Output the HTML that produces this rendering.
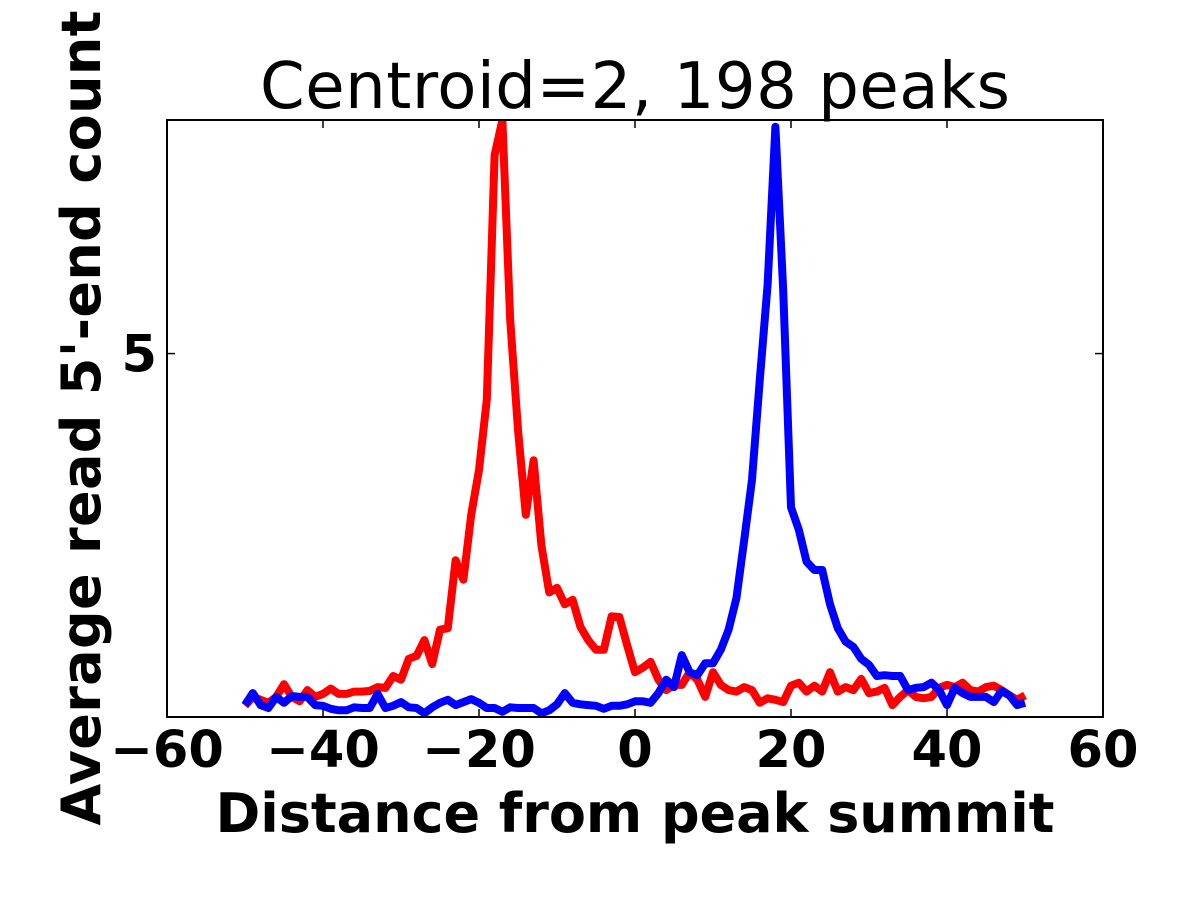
<!DOCTYPE html>
<html><head><meta charset="utf-8"><style>
html,body{margin:0;padding:0;background:#fff;}
svg{display:block;font-family:"DejaVu Sans","Liberation Sans",sans-serif;}
</style></head><body>
<svg id="chart" width="1200" height="900">
<rect width="1200" height="900" fill="#fff"/>
<text x="635" y="108" font-size="64" text-anchor="middle" textLength="750">Centroid=2, 198 peaks</text>
<text x="635" y="832" font-size="54" font-weight="bold" text-anchor="middle" textLength="839">Distance from peak summit</text>
<text transform="translate(100,418) rotate(-90)" font-size="54" font-weight="bold" text-anchor="middle" textLength="815">Average read 5'-end count</text>
<g id="plot"></g>
</svg>
<script>
const xs = [];
for (let i = -50; i <= 50; i++) xs.push(i);
const redValues = [0.28,0.40,0.36,0.32,0.40,0.57,0.40,0.34,0.49,0.40,0.44,0.51,0.44,0.44,0.47,0.47,0.48,0.53,0.52,0.68,0.63,0.91,0.95,1.16,0.84,1.30,1.32,2.23,1.97,2.84,3.44,4.38,7.66,8.13,5.45,3.98,2.84,3.57,2.43,1.80,1.86,1.64,1.70,1.34,1.16,1.03,1.03,1.48,1.47,1.09,0.73,0.79,0.87,0.63,0.49,0.56,0.56,0.73,0.63,0.40,0.73,0.56,0.49,0.47,0.53,0.49,0.32,0.38,0.36,0.33,0.55,0.59,0.47,0.55,0.47,0.73,0.47,0.53,0.49,0.64,0.45,0.47,0.52,0.29,0.40,0.49,0.40,0.38,0.40,0.52,0.56,0.53,0.59,0.49,0.47,0.53,0.55,0.49,0.42,0.36,0.42];
const blueValues = [0.29,0.45,0.29,0.25,0.40,0.32,0.41,0.40,0.40,0.29,0.28,0.24,0.22,0.22,0.26,0.25,0.25,0.44,0.25,0.28,0.33,0.26,0.25,0.18,0.26,0.32,0.36,0.29,0.33,0.37,0.32,0.25,0.25,0.20,0.26,0.25,0.25,0.25,0.18,0.22,0.30,0.45,0.32,0.30,0.29,0.28,0.24,0.28,0.28,0.30,0.34,0.34,0.32,0.45,0.63,0.53,0.96,0.73,0.69,0.85,0.85,1.03,1.30,1.72,2.50,3.31,4.65,5.92,8.04,5.85,2.94,2.64,2.21,2.10,2.10,1.64,1.32,1.14,1.07,0.91,0.83,0.68,0.69,0.68,0.68,0.49,0.52,0.53,0.59,0.49,0.29,0.52,0.45,0.40,0.40,0.40,0.33,0.48,0.42,0.29,0.32];
const xTicks = [-60,-40,-20,0,20,40,60];
const xTickLabels = ["\u221260","\u221240","\u221220","0","20","40","60"];
const yTicks = [5];
const yTickLabels = ["5"];
const xDomain = [-60,60], yDomain = [0.13,8.13];

const L=167,R=1103,T=120,B=717;
const sx = v => L + (v - xDomain[0]) / (xDomain[1]-xDomain[0]) * (R-L);
const sy = v => B - (v - yDomain[0]) / (yDomain[1]-yDomain[0]) * (B-T);
const NS="http://www.w3.org/2000/svg";
const g=document.getElementById('plot');
function mk(tag, attrs){const e=document.createElementNS(NS,tag);for(const k in attrs)e.setAttribute(k,attrs[k]);g.appendChild(e);return e;}

const clip=document.createElementNS(NS,'clipPath');clip.setAttribute('id','c');
const cr=document.createElementNS(NS,'rect');cr.setAttribute('x',L);cr.setAttribute('y',T);cr.setAttribute('width',R-L);cr.setAttribute('height',B-T);
clip.appendChild(cr);g.appendChild(clip);

function series(vals,color,name){
  const d=vals.map((v,i)=>(i?'L':'M')+sx(xs[i]).toFixed(1)+','+sy(v).toFixed(1)).join('');
  const p=mk('path',{d:d,fill:'none',stroke:color,'stroke-width':8,'stroke-linejoin':'round','clip-path':'url(#c)'});
  
  
}
series(redValues,'#ff0000','red-series-line');
series(blueValues,'#0000ff','blue-series-line');

xTicks.forEach((t,i)=>{
  const x=sx(t);
  const a=mk('line',{x1:x,x2:x,y1:B,y2:B-8,stroke:'#000','stroke-width':1.5});
  
  
  const b=mk('line',{x1:x,x2:x,y1:T,y2:T+8,stroke:'#000','stroke-width':1.5});
  
  
  const tx=mk('text',{x:x,y:767,'font-size':51,'font-weight':'bold','text-anchor':'middle'});
  tx.textContent=xTickLabels[i];
  
  
});
yTicks.forEach((t,i)=>{
  const y=sy(t);
  const a=mk('line',{x1:L,x2:L+8,y1:y,y2:y,stroke:'#000','stroke-width':1.5});
  
  
  const b=mk('line',{x1:R,x2:R-8,y1:y,y2:y,stroke:'#000','stroke-width':1.5});
  
  
  const tx=mk('text',{x:157,y:y+18,'font-size':51,'font-weight':'bold','text-anchor':'end'});
  tx.textContent=yTickLabels[i];
  
  
});
const frame=mk('rect',{x:L,y:T,width:R-L,height:B-T,fill:'none',stroke:'#000','stroke-width':2});


</script>
</body></html>
